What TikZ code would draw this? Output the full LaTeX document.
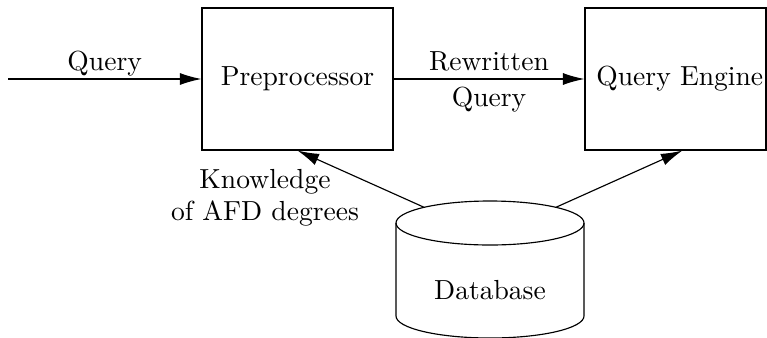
\documentclass[tikz,border=0pt]{standalone}
\usepackage{tikz}
\usetikzlibrary{arrows.meta,positioning,calc}

\begin{document}
\begin{tikzpicture}[
  x=0.348pt, y=-0.348pt,
  every node/.style={font=\fontsize{9.6}{11}\selectfont},
  blockbox/.style={draw, thin, minimum width=66.5pt, minimum height=49.4pt,
    inner sep=0pt},
  flow/.style={thin, -{Latex[length=7.5pt,width=4.2pt]}},
  lab/.style={align=center},
  toplab/.style={lab, inner sep=0pt, text depth=0pt, above=2.8pt},
  botlab/.style={lab, inner sep=0pt, text height=6.5pt, below=2.8pt}
]
  \useasboundingbox (0,0) rectangle (767,337);
  \node[blockbox] (pre) at (297.5,79) {Preprocessor};
  \node[blockbox, minimum width=63pt] (eng) at (675.5,79) {\hspace{3pt}Query Engine};
  \coordinate (in) at (8,79);
  \draw[flow] (in) -- node[toplab] {Query} (pre);
  \draw[flow] (pre) -- node[toplab] {Rewritten} node[botlab] {Query} (eng);

  % database cylinder
  \coordinate (dbtop) at (490,223);
  \node[lab] (db) at (490,290) {Database};
  \draw[thin] (dbtop) ellipse [x radius=94, y radius=22];
  \draw[thin] (396,223) -- (396,316) arc [start angle=180, end angle=0, x radius=94, y radius=22] -- (584,223);
  \coordinate (dbl) at ($(dbtop)+(-134.5:94 and 22)$);
  \coordinate (dbr) at ($(dbtop)+(-45.5:94 and 22)$);

  \draw[flow] (dbl) -- (pre.south);
  \draw[flow] (dbr) -- ([xshift=2.4pt]eng.south);
  \node[lab] (knw) at (265,198) {Knowledge\\of AFD degrees};
\end{tikzpicture}
\end{document}
